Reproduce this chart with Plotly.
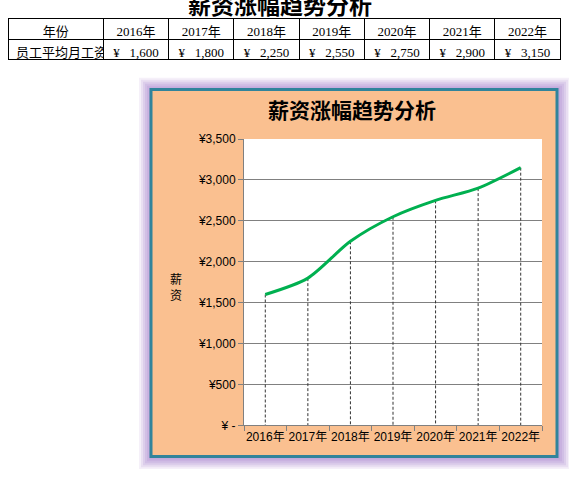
import plotly.graph_objects as go

# data
years = ["2016年", "2017年", "2018年", "2019年", "2020年", "2021年", "2022年"]
salary = [1600, 1800, 2250, 2550, 2750, 2900, 3150]
row_label = "员工平均月工资"
title = "薪资涨幅趋势分析"
y_ticks = [0, 500, 1000, 1500, 2000, 2500, 3000, 3500]

W, H = 569, 479

def px_x(v):
    return v / W

def px_y(v):
    return 1 - v / H

serif = "Liberation Serif, Noto Sans CJK SC"
sans = "Liberation Sans, Noto Sans CJK SC"

fig = go.Figure()

# the worksheet table above the chart
gap = "\u00a0" * 3
fig.add_trace(go.Table(
    domain=dict(x=[px_x(8), px_x(560)], y=[px_y(58), px_y(12)]),
    columnwidth=[95] + [65] * len(years),
    header=dict(values=["年份"] + years, height=21,
                fill_color="white", line=dict(color="black", width=1),
                align="center", font=dict(family=serif, size=13, color="black")),
    cells=dict(values=[[row_label]] + [[f"¥{gap}{v:,}"] for v in salary], height=20,
               fill_color="white", line=dict(color="black", width=1),
               align=["left"] + ["center"] * len(years),
               font=dict(family=serif, size=13, color="black")),
))

# dashed drop lines from each point to the axis
dx, dy = [], []
for c, v in zip(years, salary):
    dx += [c, c, None]
    dy += [v, 0, None]
fig.add_trace(go.Scatter(x=dx, y=dy, mode="lines", hoverinfo="skip",
                         line=dict(color="#333333", width=1, dash="3px,2px")))

fig.add_trace(go.Scatter(x=years, y=salary, mode="lines",
                         line=dict(color="#00B050", width=3, shape="spline", smoothing=0.8)))

shapes = []
# purple glow around chart frame (a bit heavier toward the lower right)
for pad, op in [(12, 0.15), (10, 0.2), (8, 0.25), (6, 0.3), (4, 0.35), (2, 0.4)]:
    shapes.append(dict(type="rect", xref="paper", yref="paper", layer="below",
                       x0=px_x(151 - pad), x1=px_x(557 + pad + 1),
                       y0=px_y(463 + pad + 1), y1=px_y(85 - pad),
                       line=dict(width=0), fillcolor=f"rgba(185,155,215,{op})"))
shapes.append(dict(type="rect", xref="paper", yref="paper", layer="below",
                   x0=px_x(151), x1=px_x(557), y0=px_y(463), y1=px_y(85),
                   line=dict(color="#31849B", width=3), fillcolor="#FAC090"))
shapes.append(dict(type="rect", xref="x domain", yref="y domain", layer="below",
                   x0=0, x1=1, y0=0, y1=1, line=dict(width=0), fillcolor="white"))

fig.update_layout(
    width=W, height=H,
    margin=dict(l=0, r=0, t=0, b=0),
    paper_bgcolor="white",
    plot_bgcolor="rgba(0,0,0,0)",
    showlegend=False,
    shapes=shapes,
    font=dict(family=sans, size=12, color="black"),
    xaxis=dict(domain=[px_x(244), px_x(542)], type="category",
               range=[-0.5, len(years) - 0.5], tickson="boundaries",
               ticks="outside", ticklen=5, tickcolor="#808080", tickangle=0,
               showline=True, linecolor="#808080", showgrid=False,
               tickfont=dict(family=sans, size=12, color="black")),
    yaxis=dict(domain=[px_y(431), px_y(136)], range=[0, 3500],
               tickvals=y_ticks,
               ticktext=["¥ -" if t == 0 else f"¥{t:,}" for t in y_ticks],
               ticks="outside", ticklen=5, tickcolor="#808080",
               showline=True, linecolor="#808080",
               showgrid=True, gridcolor="#808080", gridwidth=1,
               zeroline=False,
               tickfont=dict(family=sans, size=12, color="black")),
    annotations=[
        # sheet title, cut off at the top edge as in the screenshot
        dict(text="<b>" + title + "</b>", x=px_x(280), y=px_y(-1.5), xref="paper", yref="paper",
             showarrow=False, font=dict(family=sans, size=23, color="black"),
             xanchor="center", yanchor="middle"),
        dict(text="<b>" + title + "</b>", x=px_x(352), y=px_y(107), xref="paper", yref="paper",
             showarrow=False, font=dict(family=serif, size=21, color="black"),
             xanchor="center", yanchor="middle"),
        dict(text="薪<br>资", x=px_x(176), y=px_y(289), xref="paper", yref="paper",
             showarrow=False, font=dict(family=serif, size=12, color="black"),
             xanchor="center", yanchor="middle"),
    ],
)

# drop the browser's default 8px body margin so the figure fills the window exactly
fig.write_html("out.html", config={"displayModeBar": False},
               post_script="document.body.style.margin = '0';")
